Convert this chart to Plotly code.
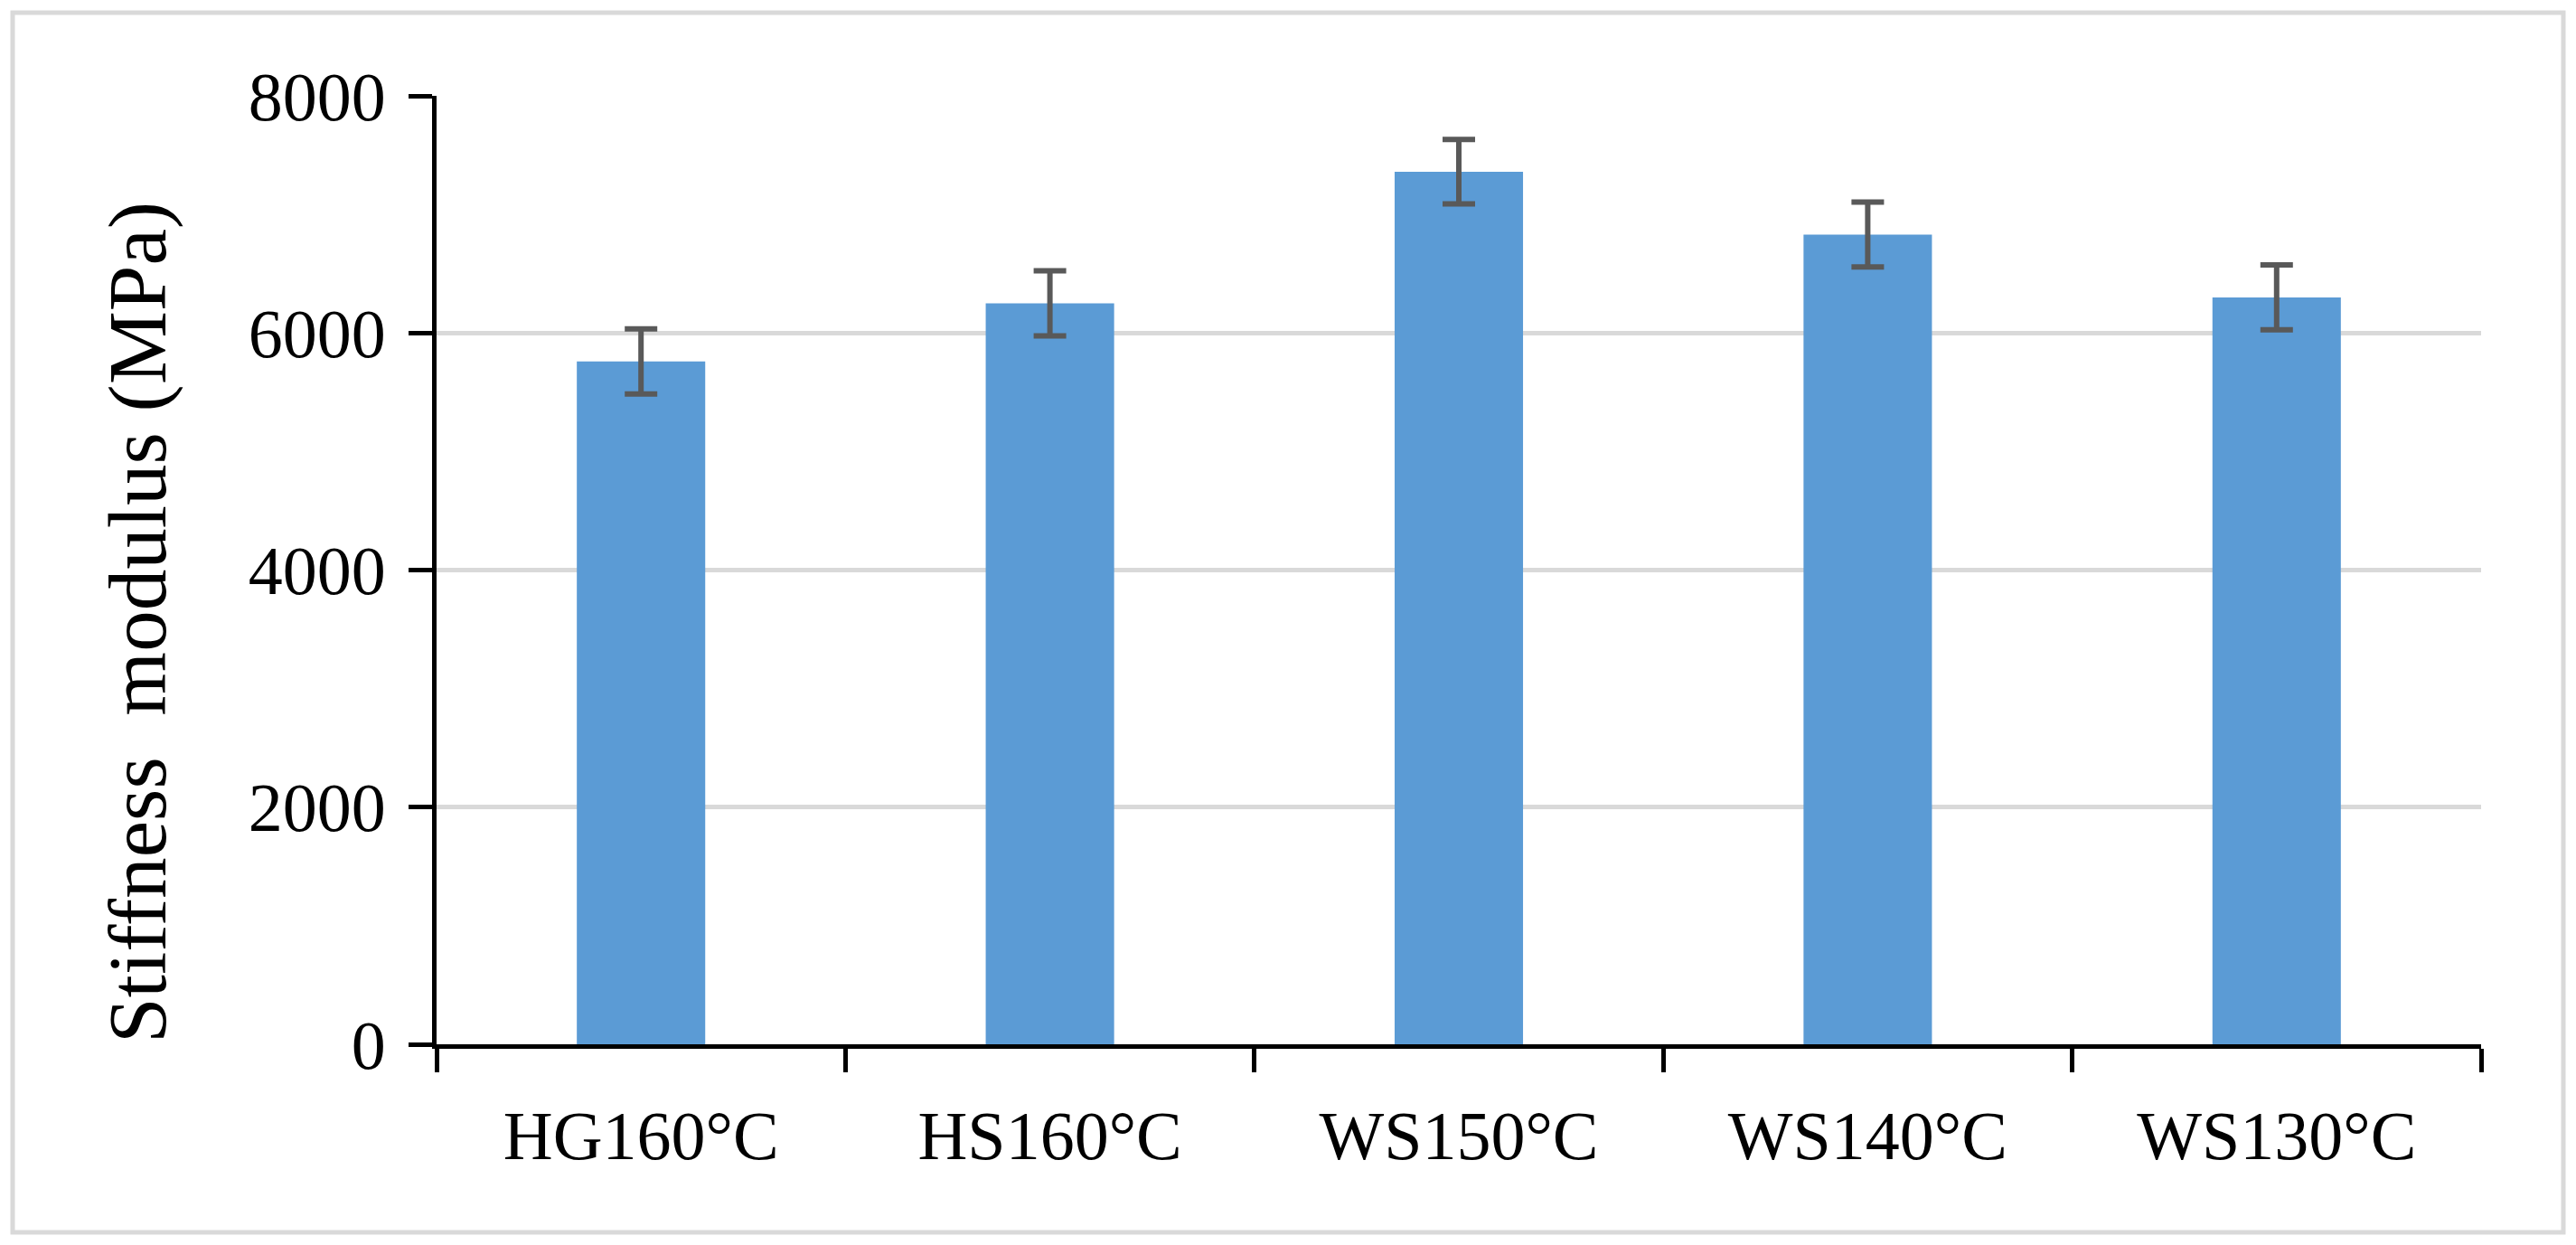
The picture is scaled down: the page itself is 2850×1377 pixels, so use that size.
import plotly.graph_objects as go

categories = ["HG160°C", "HS160°C", "WS150°C", "WS140°C", "WS130°C"]
stiffness = [5760, 6250, 7360, 6830, 6300]
errors = [275, 275, 272, 273, 274]
y_ticks = [0, 2000, 4000, 6000, 8000]
y_title = "Stiffness\u00a0 modulus (MPa)"

# page body has an 8px margin; figure coordinates are offset accordingly
OFF = 8
W, H = 2850, 1377
ML = 483 - OFF
MT = 106 - OFF
PR = 2745 - OFF          # plot right edge in figure px
PB = 1155 - OFF          # plot bottom edge in figure px
MR = W - PR
MB = H - PB
PW = PR - ML
PH = PB - MT

FONT = "Liberation Serif"

fig = go.Figure()
fig.add_trace(go.Bar(
    x=categories, y=stiffness,
    marker=dict(color="#5b9bd5", line=dict(width=0)),
    error_y=dict(type="data", array=errors, visible=True,
                 color="#595959", thickness=6, width=18),
))

def pxx(px):
    return (px - OFF - ML) / PW

def pxy(py):
    return (PB - (py - OFF)) / PH

fig.add_shape(type="rect", xref="paper", yref="paper",
              x0=pxx(14), x1=pxx(2836),
              y0=pxy(1363), y1=pxy(14),
              line=dict(color="#d9d9d9", width=5), fillcolor="rgba(0,0,0,0)",
              layer="below")

fig.add_annotation(
    text=y_title, textangle=-90, showarrow=False,
    xref="paper", yref="paper", x=pxx(152), y=pxy(689),
    xanchor="center", yanchor="middle",
    font=dict(family=FONT, size=91, color="black"),
)

fig.update_layout(
    width=W, height=H,
    margin=dict(l=ML, r=MR, t=MT, b=MB, pad=0),
    paper_bgcolor="white", plot_bgcolor="white",
    bargap=0.686,
    showlegend=False,
    font=dict(family=FONT, size=74, color="black"),
)
fig.update_xaxes(
    type="category",
    showline=True, linecolor="black", linewidth=5,
    ticks="outside", ticklen=26, tickwidth=5, tickcolor="black",
    tickson="boundaries",
    tickfont=dict(family=FONT, size=76, color="black"),
    ticklabelstandoff=31,
    showgrid=False,
)
fig.update_yaxes(
    range=[0, 8000],
    tickvals=y_ticks,
    ticktext=[str(v) for v in y_ticks],
    showline=True, linecolor="black", linewidth=5,
    ticks="outside", ticklen=26, tickwidth=5, tickcolor="black",
    tickfont=dict(family=FONT, size=76, color="black"),
    ticklabelstandoff=10,
    showgrid=True, gridcolor="#d9d9d9", gridwidth=5,
    zeroline=False,
)

fig.write_html("out.html")
